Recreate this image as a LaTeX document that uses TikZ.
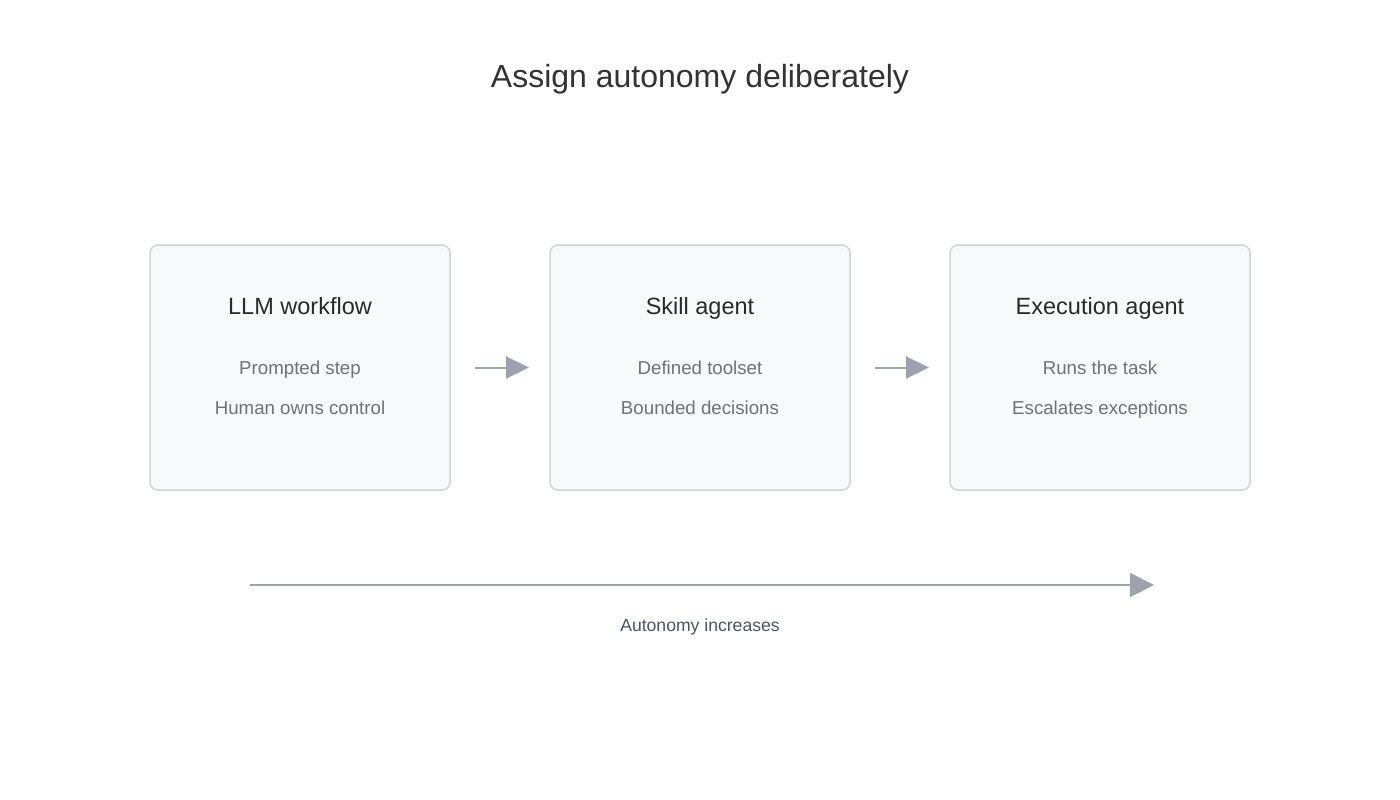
\documentclass[tikz,border=0pt]{standalone}
\usepackage{fontspec}
\setmainfont{Liberation Sans}
\usepackage{xcolor}
\usetikzlibrary{positioning, calc, arrows.meta}

\definecolor{titlegray}{HTML}{333333}
\definecolor{headgray}{HTML}{2A2A2A}
\definecolor{bodygray}{HTML}{6B7280}
\definecolor{axisgray}{HTML}{4B5563}
\definecolor{arrowgray}{HTML}{9CA3AF}
\definecolor{boxfill}{HTML}{F8F9FB}
\definecolor{boxline}{HTML}{D1D5DB}

\begin{document}
\begin{tikzpicture}[
    x=1pt, y=1pt,
    node distance=100pt,
    box/.style={draw=boxline, fill=boxfill, line width=1.5pt, rounded corners=8pt, minimum width=300pt, minimum height=245pt, inner sep=0pt, outer sep=0pt},
    heading/.style={font=\fontsize{23.5}{28}\selectfont, text=headgray, inner sep=0pt, anchor=base},
    detail/.style={font=\fontsize{18.7}{22}\selectfont, text=bodygray, inner sep=0pt, anchor=base},
    flow/.style={-{Triangle[length=23pt, width=22pt]}, draw=arrowgray, line width=2pt},
    axis/.style={-{Triangle[length=24pt, width=24pt]}, draw=arrowgray, line width=2pt},
]
\useasboundingbox (0,0) rectangle (1400,-800);

% Title
\node[font=\fontsize{32}{38}\selectfont, text=titlegray, inner sep=0pt, anchor=base] (title) at (700,-87) {Assign autonomy deliberately};

% Stages
\node[box] (llm) at (300,-367.5) {};
\node[box, right=of llm] (skill) {};
\node[box, right=of skill] (exec) {};

\node[heading] (llmhead) at ([yshift=-69pt]llm.north) {LLM workflow};
\node[detail] (llmone) at ([yshift=-129pt]llm.north) {Prompted step};
\node[detail] (llmtwo) at ([yshift=-169pt]llm.north) {Human owns control};

\node[heading] (skillhead) at ([yshift=-69pt]skill.north) {Skill agent};
\node[detail] (skillone) at ([yshift=-129pt]skill.north) {Defined toolset};
\node[detail] (skilltwo) at ([yshift=-169pt]skill.north) {Bounded decisions};

\node[heading] (exechead) at ([yshift=-69pt]exec.north) {Execution agent};
\node[detail] (execone) at ([yshift=-129pt]exec.north) {Runs the task};
\node[detail] (exectwo) at ([yshift=-169pt]exec.north) {Escalates exceptions};

% Hand-offs
\draw[flow] ([xshift=25pt]llm.east) -- ([xshift=-21pt]skill.west);
\draw[flow] ([xshift=25pt]skill.east) -- ([xshift=-21pt]exec.west);

% Autonomy axis
\coordinate (axisstart) at (250,-585);
\coordinate (axisend) at (1154,-585);
\draw[axis] (axisstart) -- (axisend);
\node[font=\fontsize{17.6}{21}\selectfont, text=axisgray, inner sep=0pt, anchor=base] (axislabel) at (700,-631) {Autonomy increases};

\end{tikzpicture}
\end{document}
